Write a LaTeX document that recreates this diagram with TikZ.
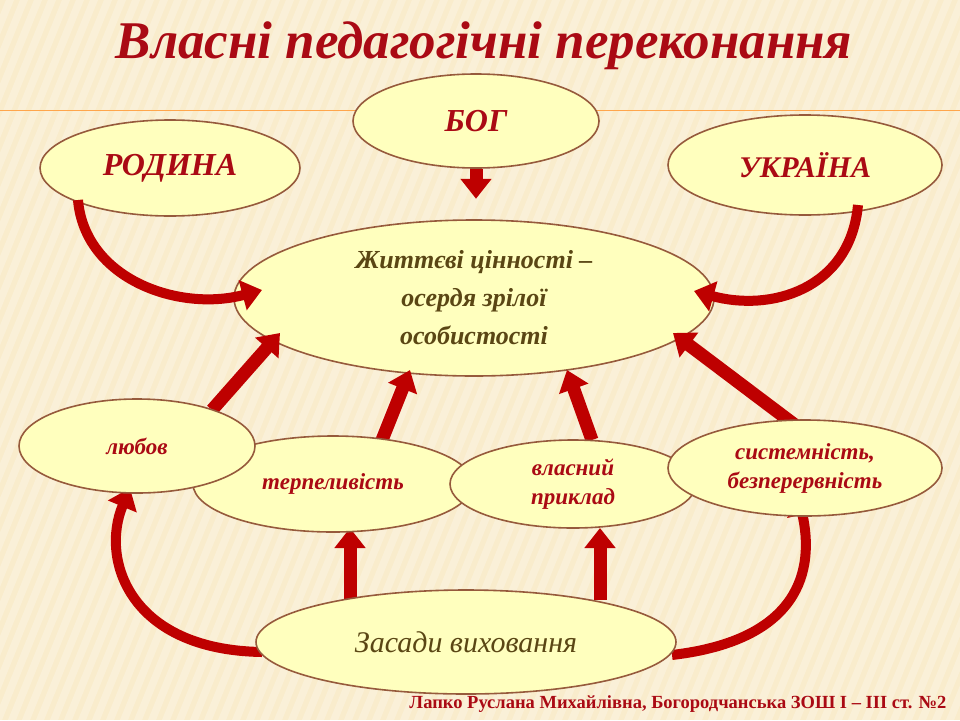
\documentclass[tikz,border=0pt]{standalone}
\usepackage{fontspec}
\setmainfont{Liberation Serif}
\usetikzlibrary{shapes.geometric,arrows.meta}
\definecolor{bg}{RGB}{249,236,204}
\definecolor{ell}{RGB}{255,255,190}
\definecolor{edge}{RGB}{150,90,60}
\definecolor{dred}{RGB}{190,0,0}
\definecolor{ttl}{RGB}{170,10,20}
\definecolor{olive}{RGB}{90,70,20}
\tikzset{
  el/.style={ellipse,draw=edge,line width=1.6pt,fill=ell,inner sep=0pt,align=center},
  rtext/.style={text=ttl,font=\bfseries\itshape},
  blk/.style={draw=dred,line width=13pt,-{Triangle[width=30pt,length=20pt]}},
}
\begin{document}
\begin{tikzpicture}[x=1pt,y=-1pt]
\useasboundingbox (0,0) rectangle (960,720);
\begin{scope}
\clip (0,0) rectangle (960,720);
\fill[bg] (0,0) rectangle (960,720);
\foreach \i in {0,14,...,1400}{\fill[white,opacity=0.25] (\i-300,720) -- (\i-292,720) -- (\i,0) -- (\i-8,0) -- cycle;}
\end{scope}
\draw[orange!70,line width=1pt] (0,110) -- (960,110);
\node[text=ttl,font=\bfseries\itshape\fontsize{53}{58}\selectfont] (title) at (484,46) {Власні педагогічні переконання};

% nodes
\node[el,minimum width=246,minimum height=94,rtext,font=\bfseries\itshape\fontsize{32}{36}\selectfont] (bog) at (476,121) {БОГ};
\node[el,minimum width=260,minimum height=96,rtext,font=\bfseries\itshape\fontsize{32}{36}\selectfont] (rod) at (170,168) {РОДИНА};
\node[el,minimum width=274,minimum height=100,rtext,font=\bfseries\itshape\fontsize{30}{34}\selectfont] (ukr) at (805,165) {УКРАЇНА};

\draw[blk] (bog.south) -- ++(0,30);

\node[el,minimum width=480,minimum height=156,text=olive,font=\bfseries\itshape\fontsize{26}{38}\selectfont] (c) at (474,298) {Життєві цінності –\\осердя зрілої\\особистості};

% curved arrows to the centre, drawn on top
\coordinate (rodS) at (78,200);
\coordinate (ukrS) at (858,205);
\draw[blk,line width=10pt] (rodS) .. controls (85,280) and (180,312) .. (262,290);
\draw[blk,line width=10pt] (ukrS) .. controls (850,290) and (770,312) .. (694,291);

\coordinate (zl) at (262,652);
\coordinate (zr) at (672,655);
\draw[blk,line width=10pt] (zl) .. controls (130,650) and (100,560) .. (130,488);
\draw[blk,line width=10pt] (zr) .. controls (800,640) and (815,570) .. (798,495);
\draw[blk] (350,600) -- (350,528);
\draw[blk] (600,600) -- (600,528);
\draw[blk] (212,410) -- (280,333);
\draw[blk] (382,440) -- (410,370);
\draw[blk] (592,440) -- (567,370);
\draw[blk] (795,425) -- (673,333);

\node[el,minimum width=280,minimum height=96,rtext,font=\bfseries\itshape\fontsize{23}{27}\selectfont] (ter) at (333,484) {терпеливість};
\node[el,minimum width=236,minimum height=94,rtext,font=\bfseries\itshape\fontsize{23}{27}\selectfont] (lub) at (137,446) {любов};
\node[el,minimum width=246,minimum height=88,rtext,font=\bfseries\itshape\fontsize{23}{29}\selectfont] (vl) at (573,484) {власний\\приклад};
\node[el,minimum width=274,minimum height=96,rtext,font=\bfseries\itshape\fontsize{23}{29}\selectfont] (sys) at (805,468) {системність,\\безперервність};
\node[el,minimum width=420,minimum height=104,text=olive,font=\itshape\fontsize{30}{34}\selectfont] (zas) at (466,642) {Засади виховання};

\node[text=ttl,font=\bfseries\fontsize{18.5}{20}\selectfont,anchor=east] (foot) at (950,704) {Лапко Руслана Михайлівна, Богородчанська ЗОШ І – ІІІ ст. №2};
\end{tikzpicture}
\end{document}
